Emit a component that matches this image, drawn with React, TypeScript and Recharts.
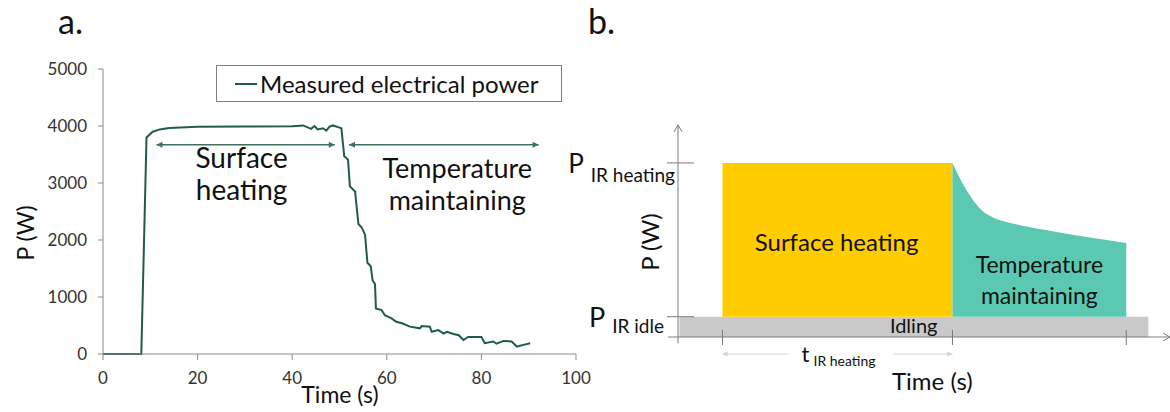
import React from 'react';
import {
  ComposedChart,
  Line,
  Area,
  XAxis,
  YAxis,
  ReferenceLine,
  ReferenceDot,
  Legend,
  Label,
} from 'recharts';

const FONT = 'Lato, "Open Sans", sans-serif';
const LINE_COLOR = '#1f5e45';
const ARROW_COLOR = '#3f6f5f';
const AXIS_GREY = '#8a8a8a';

// ---- a. measured electrical power ----
const timeS = [
  0, 8.1, 9.2, 10.5, 12, 14, 20, 30, 40, 40.9, 42.3, 44, 44.7, 45.4, 46.5, 47.2, 47.9, 48.6, 49.7,
  50.4, 51.0, 51.8, 52.2, 53.3, 54.0, 54.7, 55.4, 55.9, 56.6, 57.0, 57.5, 57.7, 58.9, 59.6, 61.0,
  62.0, 63.2, 64.9, 67.0, 67.4, 69.1, 69.5, 70.9, 72.0, 72.7, 74.1, 75.2, 76.2, 77.2, 80.0, 80.7,
  82.5, 83.2, 84.7, 86.4, 87.5, 88.9, 90.3,
];
const powerW = [
  0, 0, 3800, 3900, 3940, 3965, 3985, 3990, 3995, 4000, 4010, 3950, 4000, 3940, 3960, 3920, 3990,
  4010, 3980, 3960, 3470, 3410, 2940, 2850, 2280, 2220, 2090, 1600, 1540, 1290, 1230, 800, 770, 680,
  625, 565, 540, 480, 450, 490, 480, 390, 420, 360, 390, 350, 330, 245, 300, 300, 190, 220, 180, 230,
  220, 130, 160, 190,
];
const powerTicks = [0, 1000, 2000, 3000, 4000, 5000];
const timeTicks = [0, 20, 40, 60, 80, 100];

// ---- b. schematic power profile (arbitrary units) ----
const idleLevel = 9.67;
const heatingLevel = 82.9;
const idleSpan = [0.3, 95.8];
const heatingSpan = [9.06, 55.9];
const maintainU = [55.9, 57, 58, 59, 60, 61, 62, 63, 64.4, 66.5, 69.7, 75.8, 81.9, 91.3];
const maintainP = [82.9, 77.5, 73, 69, 65.5, 62.5, 60, 58.3, 56.7, 55, 53.2, 50.6, 48.1, 44.8];
const schemeTimeTicks = [9.06, 55.9, 91.3];
const schemePowerTicks = [idleLevel, heatingLevel];
const schemePowerSubs = ['IR idle', 'IR heating'];

const measured = timeS.map((t, i) => ({ t, p: powerW[i] }));

const schemeU = Array.from(
  new Set([...idleSpan, ...heatingSpan, ...maintainU])
).sort((a, b) => a - b);
const scheme = schemeU.map((u) => {
  const mi = maintainU.indexOf(u);
  return {
    u,
    idle: [0, idleLevel],
    heating: u >= heatingSpan[0] && u <= heatingSpan[1] ? [idleLevel, heatingLevel] : null,
    maintaining: mi >= 0 ? [idleLevel, maintainP[mi]] : null,
  };
});

// double-headed arrow drawn on a ReferenceLine segment
const arrowShape = (color: string, heads: 'both' | 'start' | 'end', size = 6, width = 1.4) =>
  (props: any) => {
    const { x1, y1, x2, y2 } = props;
    if (x1 == null) return <g />;
    const dir = x2 >= x1 ? 1 : -1;
    const h = size * 0.5;
    return (
      <g>
        <line x1={x1} y1={y1} x2={x2} y2={y2} stroke={color} strokeWidth={width} />
        {heads !== 'end' && (
          <polygon
            points={`${x1},${y1} ${x1 + dir * size},${y1 - h} ${x1 + dir * size},${y1 + h}`}
            fill={color}
          />
        )}
        {heads !== 'start' && (
          <polygon
            points={`${x2},${y2} ${x2 - dir * size},${y2 - h} ${x2 - dir * size},${y2 + h}`}
            fill={color}
          />
        )}
      </g>
    );
  };

// axis line with an open chevron at its far end
const axisShape = (props: any) => {
  const { x1, y1, x2, y2 } = props;
  if (x1 == null) return <g />;
  const vertical = Math.abs(x2 - x1) < 1;
  const ex = vertical ? x1 : Math.max(x1, x2);
  const ey = vertical ? Math.min(y1, y2) : y1;
  const tip = vertical
    ? `M${ex - 4},${ey + 7} L${ex},${ey} L${ex + 4},${ey + 7}`
    : `M${ex - 7},${ey - 4} L${ex},${ey} L${ex - 7},${ey + 4}`;
  return (
    <g>
      <line x1={x1} y1={y1} x2={x2} y2={y2} stroke="#7a7a7a" strokeWidth={1} />
      <path d={tip} stroke="#7a7a7a" strokeWidth={1} fill="none" />
    </g>
  );
};

const twoLines = (a: string, b: string, size: number, gap: number) => (props: any) => (
  <text
    x={props.cx}
    y={props.cy}
    textAnchor="middle"
    fontFamily={FONT}
    fontSize={size}
    fill="#111"
  >
    <tspan x={props.cx} dy={0}>{a}</tspan>
    <tspan x={props.cx} dy={gap}>{b}</tspan>
  </text>
);

const oneLine = (a: string, size: number, color = '#111') => (props: any) => (
  <text x={props.cx} y={props.cy} textAnchor="middle" fontFamily={FONT} fontSize={size} fill={color}>
    {a}
  </text>
);

const PowerLegend = (props: any) => {
  const item = props.payload && props.payload[0];
  return (
    <div
      style={{
        width: 346,
        height: 37,
        boxSizing: 'border-box',
        border: '1px solid #808080',
        display: 'flex',
        alignItems: 'center',
        paddingLeft: 18,
        fontFamily: FONT,
        fontSize: 24,
        color: '#111',
        background: '#fff',
        whiteSpace: 'nowrap',
      }}
    >
      <span
        style={{
          display: 'inline-block',
          width: 22,
          height: 2,
          background: item ? item.color : LINE_COLOR,
          marginRight: 3,
        }}
      />
      {item ? item.value : 'Measured electrical power'}
    </div>
  );
};

const SchemeXTick = (props: any) => {
  const { x, y } = props;
  return <line x1={x} y1={y - 7} x2={x} y2={y + 8} stroke="#7a7a7a" strokeWidth={1} />;
};

const SchemeYTick = (props: any) => {
  const { y, index } = props;
  const x = props.x + 1;
  const heating = index === 1;
  return (
    <g>
      <line x1={x - 12} y1={y} x2={x + 15} y2={y} stroke="#7a7a7a" strokeWidth={1} />
      <text
        x={heating ? x - 4 : x - 15}
        y={y + 10}
        textAnchor="end"
        fontFamily={FONT}
        fill="#111"
      >
        <tspan fontSize={heating ? 26 : 27}>P</tspan>
        <tspan fontSize={19} dx={7} dy={heating ? 9 : 6}>
          {schemePowerSubs[index]}
        </tspan>
      </text>
    </g>
  );
};

export default function App() {
  return (
    <div
      style={{
        position: 'absolute',
        left: 0,
        top: 0,
        width: 1170,
        height: 412,
        background: '#fff',
        overflow: 'hidden',
        fontFamily: FONT,
      }}
    >
      <div style={{ position: 'absolute', left: 58, top: 0, fontSize: 34, color: '#111' }}>a.</div>
      <div style={{ position: 'absolute', left: 588, top: 0, fontSize: 34, color: '#111' }}>b.</div>

      {/* a. measured power */}
      <div style={{ position: 'absolute', left: 0, top: 0 }}>
        <ComposedChart
          width={600}
          height={412}
          data={measured}
          margin={{ top: 69, right: 24, bottom: 8, left: 43 }}
        >
          <XAxis
            dataKey="t"
            type="number"
            domain={[0, 100]}
            ticks={timeTicks}
            interval={0}
            height={50}
            stroke={AXIS_GREY}
            tickSize={6}
            tickMargin={12}
            tick={{ fill: '#333', fontSize: 17, fontFamily: FONT }}
          >
            <Label
              content={() => (
                <text x={340} y={403} textAnchor="middle" fontFamily={FONT} fontSize={23} fill="#111">
                  Time (s)
                </text>
              )}
            />
          </XAxis>
          <YAxis
            type="number"
            domain={[0, 5000]}
            ticks={powerTicks}
            interval={0}
            width={60}
            stroke={AXIS_GREY}
            tickSize={5}
            tickMargin={11}
            tick={{ fill: '#333', fontSize: 17, fontFamily: FONT }}
          >
            <Label
              content={() => (
                <text
                  x={25}
                  y={233}
                  transform="rotate(-90 25 233)"
                  textAnchor="middle"
                  dominantBaseline="central"
                  fontFamily={FONT}
                  fontSize={23}
                  fill="#111"
                >
                  P (W)
                </text>
              )}
            />
          </YAxis>
          <Legend
            layout="vertical"
            align="center"
            verticalAlign="middle"
            content={PowerLegend}
            wrapperStyle={{ left: 216, top: 65, width: 346, height: 37 }}
          />
          <Line
            dataKey="p"
            name="Measured electrical power"
            type="linear"
            stroke={LINE_COLOR}
            strokeWidth={2}
            dot={false}
            isAnimationActive={false}
          />
          <ReferenceLine
            segment={[{ x: 11.3, y: 3670 }, { x: 49, y: 3670 }]}
            shape={arrowShape(ARROW_COLOR, 'both')}
            ifOverflow="visible"
          />
          <ReferenceLine
            segment={[{ x: 52, y: 3670 }, { x: 92.1, y: 3670 }]}
            shape={arrowShape(ARROW_COLOR, 'both')}
            ifOverflow="visible"
          />
          <ReferenceDot
            x={29.3}
            y={(354 - 168) / 0.057}
            r={0}
            ifOverflow="visible"
            shape={twoLines('Surface', 'heating', 28, 32)}
          />
          <ReferenceDot
            x={74.9}
            y={(354 - 178) / 0.057}
            r={0}
            ifOverflow="visible"
            shape={twoLines('Temperature', 'maintaining', 27, 32)}
          />
        </ComposedChart>
      </div>

      {/* b. schematic */}
      <div style={{ position: 'absolute', left: 560, top: 0 }}>
        <ComposedChart
          width={610}
          height={412}
          data={scheme}
          margin={{ top: 127, right: 1, bottom: 15, left: 117 }}
        >
          <XAxis
            dataKey="u"
            type="number"
            domain={[0, 100]}
            ticks={schemeTimeTicks}
            interval={0}
            height={60}
            axisLine={false}
            tickLine={false}
            tickSize={0}
            tickMargin={0}
            tick={SchemeXTick}
          />
          <YAxis
            type="number"
            domain={[0, 100]}
            ticks={schemePowerTicks}
            interval={0}
            width={1}
            axisLine={false}
            tickLine={false}
            tickSize={0}
            tickMargin={0}
            tick={(p: any) => <SchemeYTick {...p} />}
          />
          <Area
            dataKey="idle"
            type="linear"
            stroke="none"
            fill="#c9c9c9"
            fillOpacity={1}
            isAnimationActive={false}
          />
          <Area
            dataKey="heating"
            type="linear"
            stroke="none"
            fill="#ffcc00"
            fillOpacity={1}
            isAnimationActive={false}
          />
          <Area
            dataKey="maintaining"
            type="monotone"
            stroke="none"
            fill="#5bc9b2"
            fillOpacity={1}
            isAnimationActive={false}
          />
          <ReferenceLine
            segment={[{ x: 0, y: -3 }, { x: 0, y: 101 }]}
            shape={axisShape}
            ifOverflow="visible"
          />
          <ReferenceLine
            segment={[{ x: -2, y: 0 }, { x: 100.2, y: 0 }]}
            shape={axisShape}
            ifOverflow="visible"
          />
          <ReferenceLine
            segment={[{ x: 9.06, y: -8.1 }, { x: 22.5, y: -8.1 }]}
            shape={arrowShape('#d4d4d4', 'start', 5, 1.2)}
            ifOverflow="visible"
          />
          <ReferenceLine
            segment={[{ x: 43.9, y: -8.1 }, { x: 55.9, y: -8.1 }]}
            shape={arrowShape('#d4d4d4', 'end', 5, 1.2)}
            ifOverflow="visible"
          />
          <ReferenceDot
            x={32.3}
            y={(337 - 251) / 2.1}
            r={0}
            ifOverflow="visible"
            shape={oneLine('Surface heating', 24)}
          />
          <ReferenceDot
            x={73.6}
            y={(337 - 273) / 2.1}
            r={0}
            ifOverflow="visible"
            shape={twoLines('Temperature', 'maintaining', 23, 31)}
          />
          <ReferenceDot
            x={48}
            y={(337 - 333) / 2.1}
            r={0}
            ifOverflow="visible"
            shape={oneLine('Idling', 20)}
          />
          <ReferenceDot
            x={32.7}
            y={(337 - 362) / 2.1}
            r={0}
            ifOverflow="visible"
            shape={(p: any) => (
              <text x={p.cx} y={p.cy} textAnchor="middle" fontFamily={FONT} fill="#111">
                <tspan fontSize={22}>t</tspan>
                <tspan fontSize={14} dx={4} dy={4}>IR heating</tspan>
              </text>
            )}
          />
          <ReferenceDot
            x={51.8}
            y={(337 - 390) / 2.1}
            r={0}
            ifOverflow="visible"
            shape={oneLine('Time (s)', 24)}
          />
          <ReferenceDot
            x={-5.9}
            y={(337 - 242) / 2.1}
            r={0}
            ifOverflow="visible"
            shape={(p: any) => (
              <text
                x={p.cx}
                y={p.cy}
                transform={`rotate(-90 ${p.cx} ${p.cy})`}
                textAnchor="middle"
                dominantBaseline="central"
                fontFamily={FONT}
                fontSize={24}
                fill="#111"
              >
                P (W)
              </text>
            )}
          />
        </ComposedChart>
      </div>
    </div>
  );
}
